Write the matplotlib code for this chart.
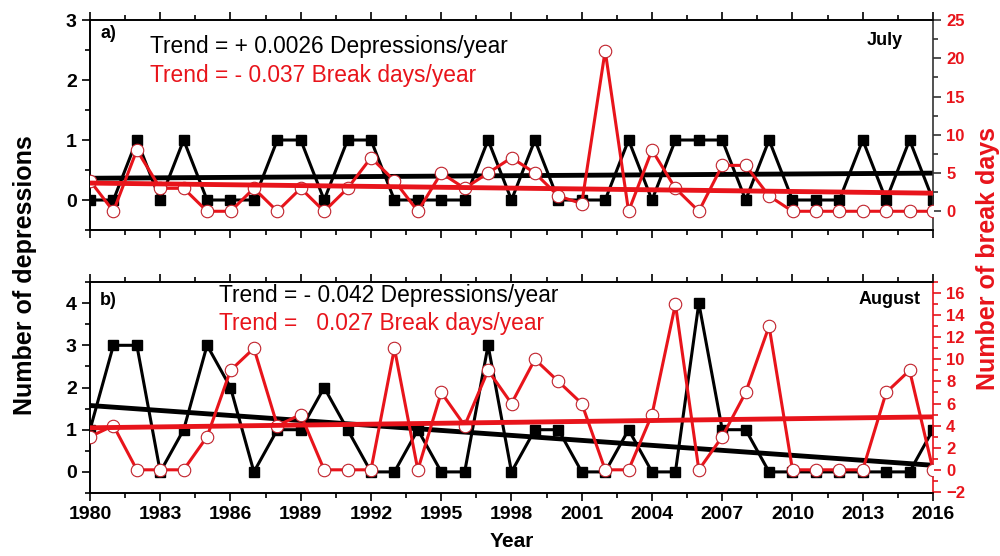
import numpy as np
import matplotlib
matplotlib.use("Agg")
import matplotlib.pyplot as plt
from matplotlib.ticker import MultipleLocator

years = list(range(1980, 2017))

jul_depressions = [0, 0, 1, 0, 1, 0, 0, 0, 1, 1, 0, 1, 1, 0, 0, 0, 0, 1, 0, 1,
                   0, 0, 0, 1, 0, 1, 1, 1, 0, 1, 0, 0, 0, 1, 0, 1, 0]
jul_break_days = [4, 0, 8, 3, 3, 0, 0, 3, 0, 3, 0, 3, 7, 4, 0, 5, 3, 5, 7, 5,
                  2, 1, 21, 0, 8, 3, 0, 6, 6, 2, 0, 0, 0, 0, 0, 0, 0]

aug_depressions = [1, 3, 3, 0, 1, 3, 2, 0, 1, 1, 2, 1, 0, 0, 1, 0, 0, 3, 0, 1,
                   1, 0, 0, 1, 0, 0, 4, 1, 1, 0, 0, 0, 0, 0, 0, 0, 1]
aug_break_days = [3, 4, 0, 0, 0, 3, 9, 11, 4, 5, 0, 0, 0, 11, 0, 7, 4, 9, 6, 10,
                  8, 6, 0, 0, 5, 15, 0, 3, 7, 13, 0, 0, 0, 0, 7, 9, 0]

panels = [
    dict(label="a)", month="July", dep=jul_depressions, brk=jul_break_days,
         t1="Trend = + 0.0026 Depressions/year", t2="Trend = - 0.037 Break days/year"),
    dict(label="b)", month="August", dep=aug_depressions, brk=aug_break_days,
         t1="Trend = - 0.042 Depressions/year", t2="Trend =   0.027 Break days/year"),
]

RED = "#e8141b"
plt.rcParams['font.family'] = ['Liberation Sans', 'DejaVu Sans']

fig = plt.figure(figsize=(10, 5.56), dpi=100)
ax_pos = [[0.09, 0.5863, 0.843, 0.3777], [0.09, 0.1133, 0.843, 0.3795]]
ylims_left = [(-0.5, 3), (-0.5, 4.5)]
ylims_right = [(-2.45, 25), (-2.1, 17)]
rmaj = [5, 2]
rmin = [2.5, 1]
text_y = [(0.843, 0.705, 0.912, 0.88), (0.905, 0.773, 0.891, 0.896)]
text_x = [0.0712, 0.153]

x = np.array(years, dtype=float)
for i, p in enumerate(panels):
    ax = fig.add_axes(ax_pos[i])
    ax2 = ax.twinx()

    dep = np.array(p["dep"], dtype=float)
    brk = np.array(p["brk"], dtype=float)

    ax.plot(x, dep, color="black", lw=2.2, marker="s", ms=7, mfc="black",
            mec="black", zorder=3)
    c1 = np.polyfit(x, dep, 1)
    ax.plot(x, np.polyval(c1, x), color="black", lw=3.5, zorder=4)
    ax2.plot(x, brk, color=RED, lw=2.2, marker="o", ms=9, mfc="white",
             mec="#c0202a", mew=0.8, zorder=3)
    c2 = np.polyfit(x, brk, 1)
    ax2.plot(x, np.polyval(c2, x), color=RED, lw=3.5, zorder=4)

    ax.set_xlim(1980, 2016)
    ax.set_ylim(*ylims_left[i])
    ax2.set_ylim(*ylims_right[i])
    ax.xaxis.set_major_locator(MultipleLocator(3))
    ax.xaxis.set_minor_locator(MultipleLocator(1.5))
    ax.yaxis.set_major_locator(MultipleLocator(1))
    ax.yaxis.set_minor_locator(MultipleLocator(0.5))
    ax2.yaxis.set_major_locator(MultipleLocator(rmaj[i]))
    ax2.yaxis.set_minor_locator(MultipleLocator(rmin[i]))

    ax.tick_params(axis="both", which="major", direction="out", length=6, width=1.2,
                   labelsize=14, top=True)
    ax.tick_params(axis="both", which="minor", direction="out", length=3.5, width=1.2,
                   top=True)
    ax.tick_params(axis="x", which="both", top=True, labeltop=False)
    rcol = "#333333" if i == 0 else RED
    ax2.tick_params(axis="y", which="major", direction="out", length=6, width=1.2,
                    labelsize=12, colors=RED)
    ax2.tick_params(axis="y", which="minor", direction="out", length=3.5, width=1.2,
                    color=rcol)
    ax2.tick_params(axis="y", which="major", color=rcol)
    for lab in ax.get_xticklabels() + ax.get_yticklabels():
        lab.set_fontweight("bold")
    for lab in ax2.get_yticklabels():
        lab.set_fontweight("bold")
        lab.set_color(RED)
    for s in ["left", "top", "bottom"]:
        ax.spines[s].set_linewidth(1.2)
        ax2.spines[s].set_linewidth(1.2)
    ax2.spines["right"].set_linewidth(1.2)
    ax2.spines["right"].set_color(rcol)
    ax.spines["right"].set_visible(False)

    if i == 0:
        ax.set_xticklabels([])
    else:
        ax.set_xlabel("Year", fontsize=15, fontweight="bold", labelpad=6)

    ty = text_y[i]
    ax.text(text_x[i], ty[0], p["t1"], transform=ax.transAxes, fontsize=16.4,
            color="black", va="baseline", ha="left")
    ax.text(text_x[i], ty[1], p["t2"], transform=ax.transAxes, fontsize=16.4,
            color=RED, va="baseline", ha="left")
    ax.text(0.012, ty[2], p["label"], transform=ax.transAxes, fontsize=13,
            fontweight="bold", va="baseline", ha="left")
    ax.text(0.964 if i == 0 else 0.985, ty[3], p["month"], transform=ax.transAxes,
            fontsize=13, fontweight="bold", va="baseline", ha="right")

fig.text(0.025, 0.505, "Number of depressions", rotation=90, fontsize=18,
         fontweight="bold", va="center", ha="center")
fig.text(0.988, 0.535, "Number of break days", rotation=90, fontsize=18,
         fontweight="bold", va="center", ha="center", color=RED)

fig.savefig("out.png", dpi=100)
